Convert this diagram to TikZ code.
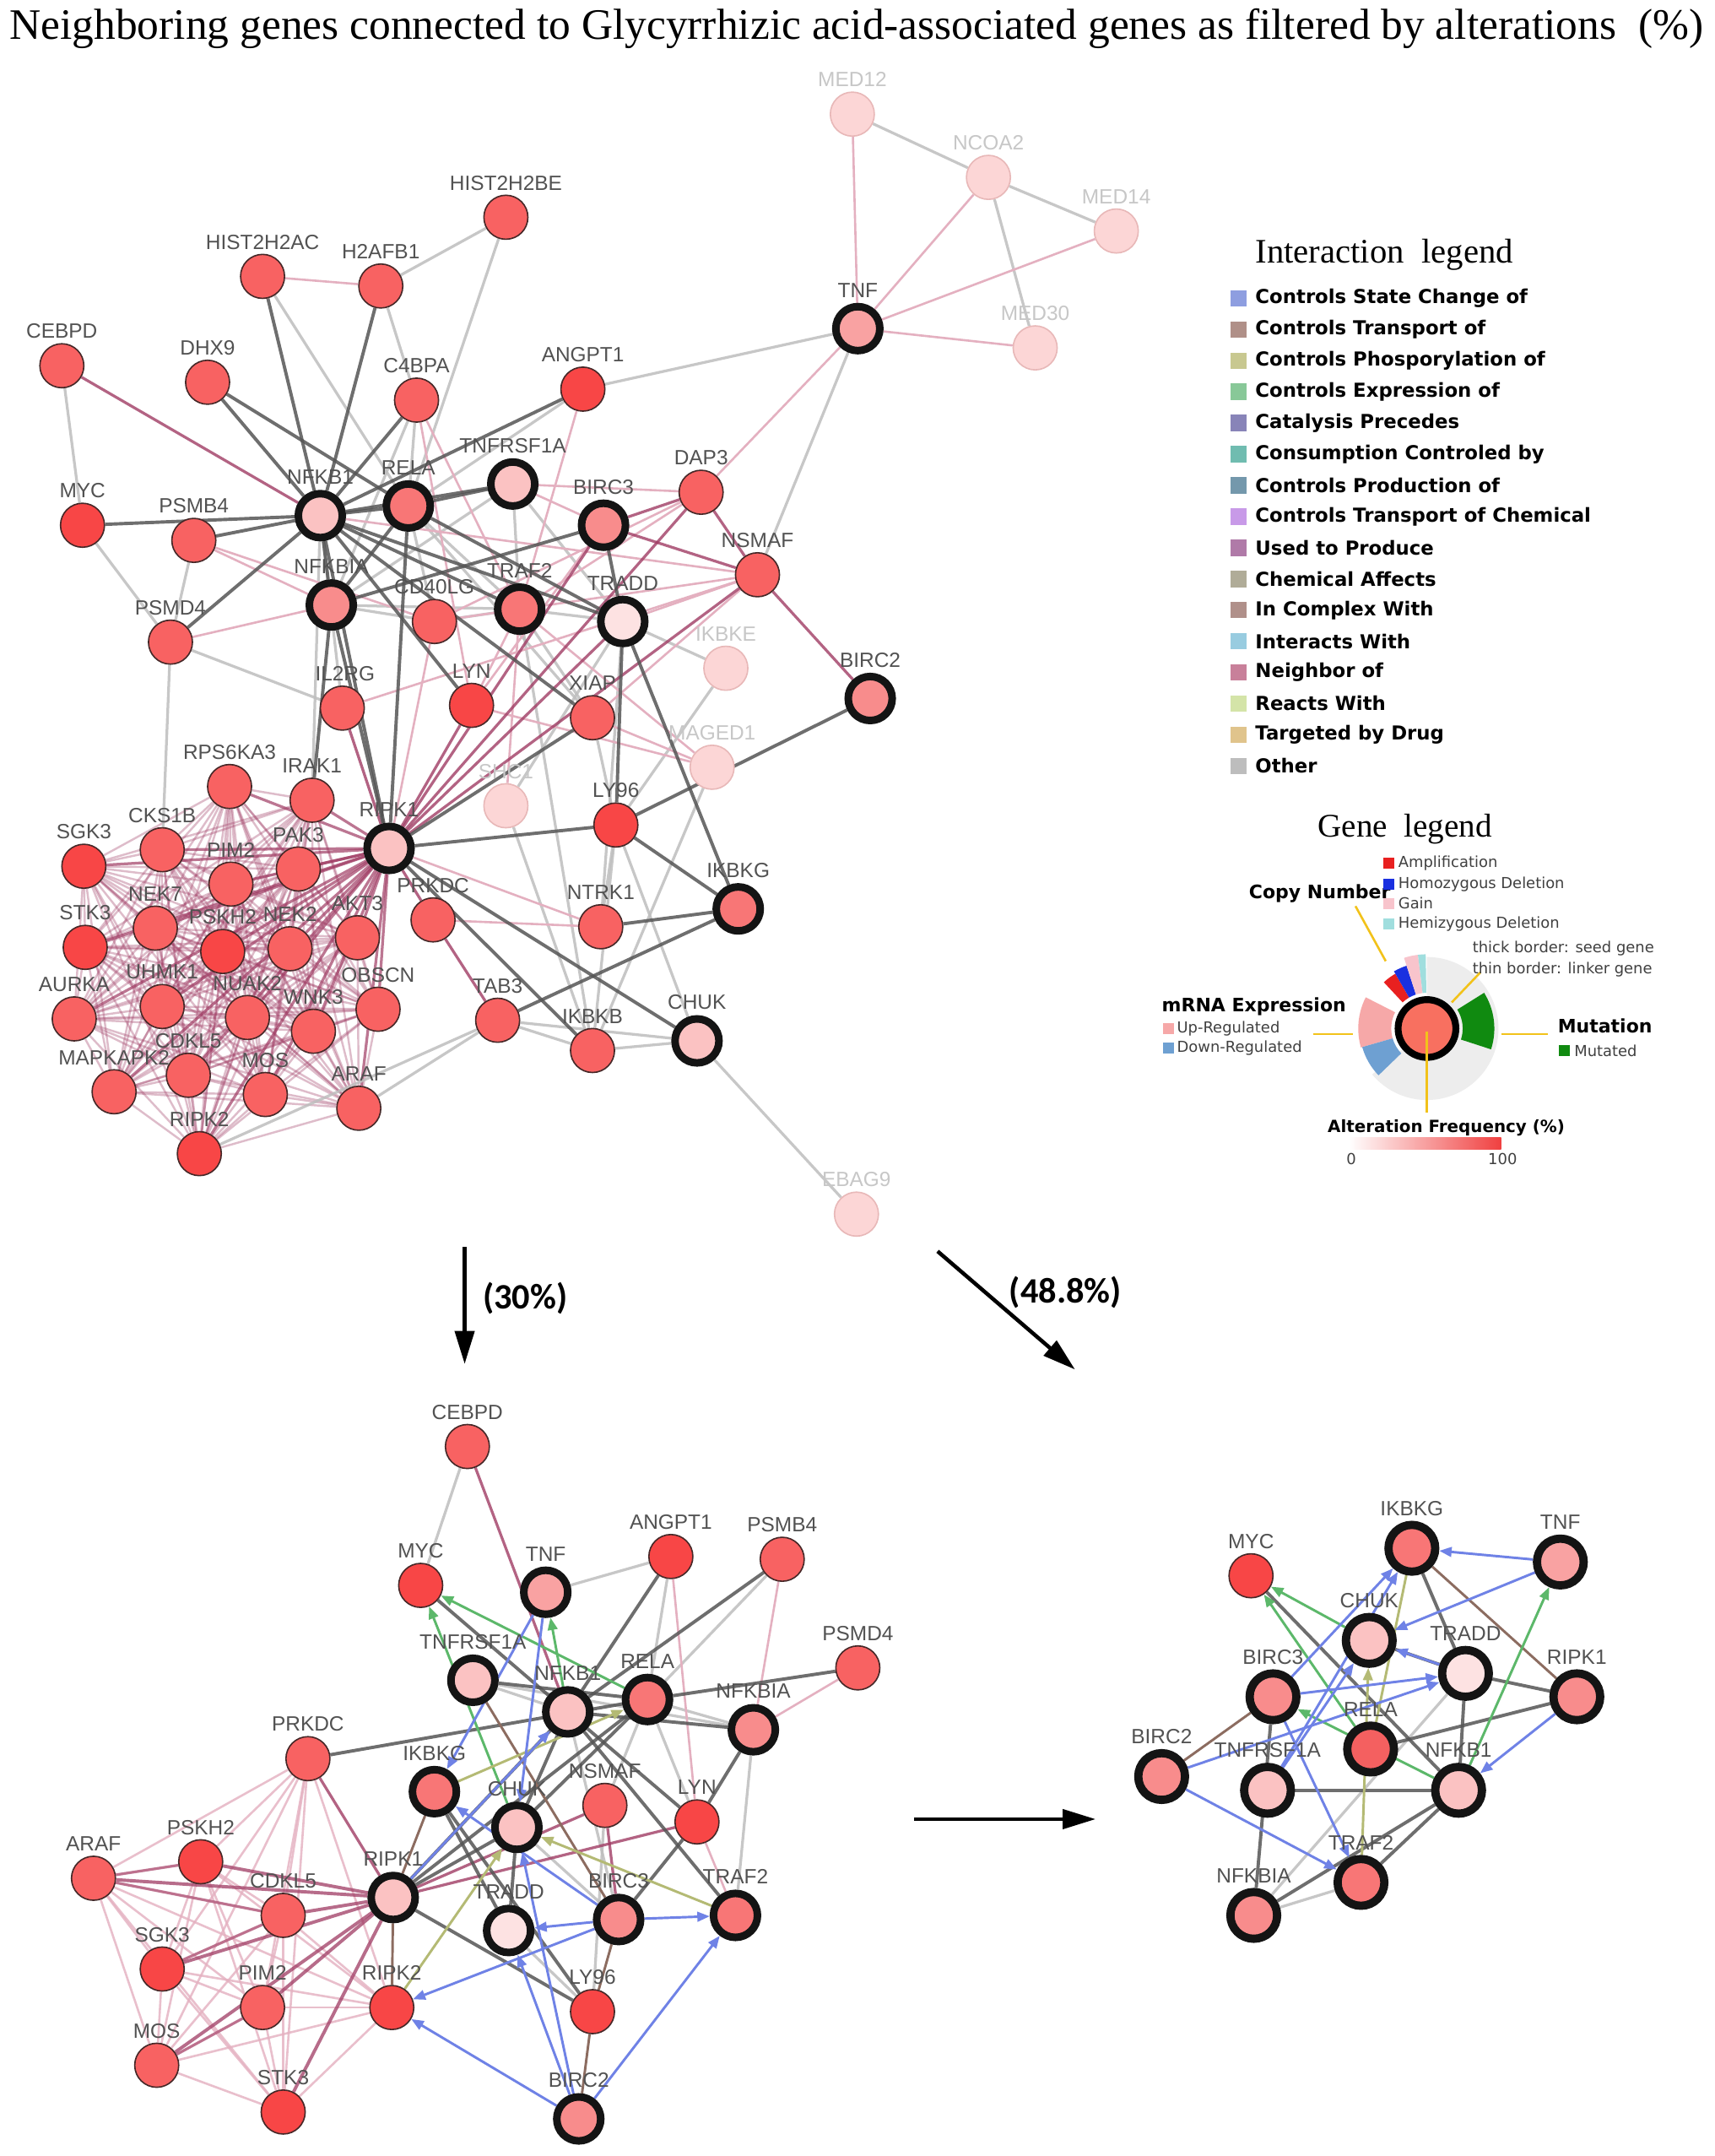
\documentclass[tikz,border=0pt]{standalone}
\usepackage{fontspec}
\setmainfont{Liberation Serif}
\setsansfont{Liberation Sans}
\newfontfamily\dejavu{DejaVu Sans}
\newfontfamily\carl{Carlito}
\usetikzlibrary{arrows.meta,calc}
\pgfdeclarelayer{bg}
\pgfdeclarelayer{edges}
\pgfsetlayers{bg,edges,main}
\definecolor{cR}{HTML}{F86262}
\definecolor{cRd}{HTML}{F84646}
\definecolor{cTNF}{HTML}{F9A2A2}
\definecolor{cSp}{HTML}{FBC2C2}
\definecolor{cSr}{HTML}{F87676}
\definecolor{cSm}{HTML}{F88C8C}
\definecolor{cSl}{HTML}{FDE2E2}
\definecolor{cRe}{HTML}{F46060}
\definecolor{cFd}{HTML}{FCD6D6}
\definecolor{cFdb}{HTML}{E8B8B8}
\definecolor{cBd}{HTML}{462828}
\definecolor{eDk}{HTML}{555555}
\definecolor{eLg}{HTML}{BEBEBE}
\definecolor{eMv}{HTML}{A03C64}
\definecolor{ePk}{HTML}{E4B0C0}
\definecolor{eBl}{HTML}{6F82E6}
\definecolor{eGr}{HTML}{5CB86A}
\definecolor{eOl}{HTML}{B4BA74}
\definecolor{eBr}{HTML}{8C6C60}
\definecolor{yel}{HTML}{F2C21A}
\definecolor{gGreen}{HTML}{108A10}
\definecolor{gUp}{HTML}{F6A8A8}
\definecolor{gDown}{HTML}{6EA0D2}
\definecolor{gAmp}{HTML}{E82020}
\definecolor{gHom}{HTML}{1A30E0}
\definecolor{gGain}{HTML}{F8C4CC}
\definecolor{gHem}{HTML}{A0DEDE}
\definecolor{gCore}{HTML}{F87060}
\definecolor{gGrad}{HTML}{F04040}
\definecolor{lc1}{HTML}{8E9EE0}
\definecolor{lc2}{HTML}{B09088}
\definecolor{lc3}{HTML}{C8C890}
\definecolor{lc4}{HTML}{88C898}
\definecolor{lc5}{HTML}{8884B8}
\definecolor{lc6}{HTML}{70BCB0}
\definecolor{lc7}{HTML}{7498AC}
\definecolor{lc8}{HTML}{C89AE8}
\definecolor{lc9}{HTML}{B07AA8}
\definecolor{lc10}{HTML}{B0AC98}
\definecolor{lc11}{HTML}{B0908A}
\definecolor{lc12}{HTML}{98CCE0}
\definecolor{lc13}{HTML}{C8809A}
\definecolor{lc14}{HTML}{D4E4A8}
\definecolor{lc15}{HTML}{E0C48C}
\definecolor{lc16}{HTML}{BDBDBD}
\tikzset{
 gn/.style={circle, draw=cBd, line width=1pt, minimum size=32pt, inner sep=0pt},
 sd/.style={circle, draw=black!92, line width=5.5pt, minimum size=32pt, inner sep=0pt},
 sdr/.style={circle, draw=black!92, line width=6pt, minimum size=34pt, inner sep=0pt},
 fd/.style={circle, draw=cFdb, line width=1pt, fill=cFd, minimum size=32pt, inner sep=0pt},
 lbl/.style={font=\sffamily\fontsize{15}{15}\selectfont, text=black!68, inner sep=0pt},
 flbl/.style={lbl, text=black!22},
 dk/.style={draw=eDk, line width=2.4pt, opacity=.85},
 lg/.style={draw=eLg, line width=2pt, opacity=.85},
 mv/.style={draw=eMv, line width=2pt, opacity=.8},
 pk/.style={draw=ePk, line width=1.6pt},
 kin/.style={draw=eMv, line width=1.5pt, opacity=.34},
 tipa/.style={-{Triangle[length=9pt,width=7pt]}},
 blu/.style={draw=eBl, line width=1.8pt, tipa},
 grn/.style={draw=eGr, line width=1.8pt, tipa},
 olv/.style={draw=eOl, line width=1.8pt, tipa},
 olvl/.style={draw=eOl, line width=1.8pt},
 brn/.style={draw=eBr, line width=1.8pt},
 bigarr/.style={line width=2.8pt, -{Triangle[length=24pt,width=14pt]}},
 legsq/.style={minimum size=12pt, inner sep=0pt},
 legtx/.style={font=\dejavu\bfseries\fontsize{14}{14}\selectfont, anchor=west, inner sep=0pt},
 gsm/.style={font=\dejavu\fontsize{11}{11}\selectfont, text=black!75, anchor=west, inner sep=0pt},
 gbd/.style={font=\dejavu\bfseries\fontsize{13.5}{13.5}\selectfont, inner sep=0pt},
 gsq/.style={minimum size=8pt, inner sep=0pt},
}
\newcommand\genN[6][0]{\node[gn,fill=#5] (#2) at (#3,#4) {}; \node[lbl] (#2-l) at (#3+#1,#4-25) {#6};}
\newcommand\genS[6][0]{\node[sd,fill=#5] (#2) at (#3,#4) {}; \node[lbl] (#2-l) at (#3+#1,#4-28) {#6};}
\newcommand\genR[6][0]{\node[sdr,fill=#5] (#2) at (#3,#4) {}; \node[lbl] (#2-l) at (#3+#1,#4-29) {#6};}
\newcommand\genF[5][0]{\node[fd] (#2) at (#3,#4) {}; \node[flbl] (#2-l) at (#3+#1,#4-25) {#5};}
\newcommand\gsect[5]{\fill[#1] (#2:26) arc[start angle=#2,end angle=#3,radius=26] -- (#3:#5) arc[start angle=#3,end angle=#2,radius=#5] -- cycle;}
\begin{document}
\begin{tikzpicture}[x=1pt,y=-1pt]
\useasboundingbox (0,0) rectangle (1247,1568);
\begin{pgfonlayer}{bg}
\fill[white] (0,0) rectangle (1247,1568);
\end{pgfonlayer}
% title
\node[font=\fontsize{31.6}{31.6}\selectfont, inner sep=0pt] (title) at (623,21) {Neighboring genes connected to Glycyrrhizic acid-associated genes as filtered by alterations\ \ (\%)};

% ================= TOP NETWORK nodes
\genF{t-MED12}{620}{83}{MED12}
\genF{t-NCOA2}{719}{129}{NCOA2}
\genF{t-MED14}{812}{168}{MED14}
\genF{t-MED30}{753}{253}{MED30}
\genS{t-TNF}{624}{239}{cTNF}{TNF}
\genN{t-HIST2H2BE}{368}{158}{cR}{HIST2H2BE}
\genN{t-HIST2H2AC}{191}{201}{cR}{HIST2H2AC}
\genN{t-H2AFB1}{277}{208}{cR}{H2AFB1}
\genN{t-CEBPD}{45}{266}{cR}{CEBPD}
\genN{t-DHX9}{151}{278}{cR}{DHX9}
\genN{t-C4BPA}{303}{291}{cR}{C4BPA}
\genN{t-ANGPT1}{424}{283}{cRd}{ANGPT1}
\genS{t-TNFRSF1A}{373}{352}{cSp}{TNFRSF1A}
\genN{t-MYC}{60}{382}{cRd}{MYC}
\genN{t-PSMB4}{141}{393}{cR}{PSMB4}
\genS{t-NFKB1}{233}{375}{cSp}{NFKB1}
\genS{t-RELA}{297}{368}{cSr}{RELA}
\genS{t-BIRC3}{439}{382}{cSm}{BIRC3}
\genN{t-DAP3}{510}{358}{cR}{DAP3}
\genN{t-NSMAF}{551}{418}{cR}{NSMAF}
\genS{t-NFKBIA}{241}{440}{cSm}{NFKBIA}
\genN{t-CD40LG}{316}{452}{cR}{CD40LG}
\genS{t-TRAF2}{378}{443}{cSr}{TRAF2}
\genS{t-TRADD}{453}{452}{cSl}{TRADD}
\genN{t-PSMD4}{124}{467}{cR}{PSMD4}
\genF{t-IKBKE}{528}{486}{IKBKE}
\genS{t-BIRC2}{633}{508}{cSm}{BIRC2}
\genN[2]{t-IL2RG}{249}{515}{cR}{IL2RG}
\genN{t-LYN}{343}{513}{cRd}{LYN}
\genN{t-XIAP}{431}{522}{cR}{XIAP}
\genF{t-MAGED1}{518}{558}{MAGED1}
\genN{t-RPS6KA3}{167}{572}{cR}{RPS6KA3}
\genN{t-IRAK1}{227}{582}{cR}{IRAK1}
\genF{t-SHC1}{368}{586}{SHC1}
\genN{t-LY96}{448}{600}{cRd}{LY96}
\genS{t-RIPK1}{283}{617}{cSp}{RIPK1}
\genN{t-SGK3}{61}{630}{cRd}{SGK3}
\genN{t-CKS1B}{118}{618}{cR}{CKS1B}
\genN{t-PIM2}{168}{643}{cR}{PIM2}
\genN{t-PAK3}{217}{632}{cR}{PAK3}
\genN{t-NEK7}{113}{675}{cR}{NEK7}
\genN{t-STK3}{62}{689}{cRd}{STK3}
\genN{t-PSKH2}{162}{692}{cRd}{PSKH2}
\genN{t-NEK2}{211}{690}{cR}{NEK2}
\genN{t-AKT3}{260}{682}{cR}{AKT3}
\genN{t-PRKDC}{315}{669}{cR}{PRKDC}
\genN{t-NTRK1}{437}{674}{cR}{NTRK1}
\genS{t-IKBKG}{537}{661}{cSr}{IKBKG}
\genN{t-AURKA}{54}{741}{cR}{AURKA}
\genN{t-UHMK1}{118}{732}{cR}{UHMK1}
\genN{t-NUAK2}{180}{740}{cR}{NUAK2}
\genN{t-WNK3}{228}{750}{cR}{WNK3}
\genN{t-OBSCN}{275}{734}{cR}{OBSCN}
\genN{t-TAB3}{362}{742}{cR}{TAB3}
\genN{t-IKBKB}{431}{764}{cR}{IKBKB}
\genS{t-CHUK}{507}{757}{cSp}{CHUK}
\genN{t-MAPKAPK2}{83}{794}{cR}{MAPKAPK2}
\genN{t-CDKL5}{137}{782}{cR}{CDKL5}
\genN{t-MOS}{193}{796}{cR}{MOS}
\genN{t-ARAF}{261}{806}{cR}{ARAF}
\genN{t-RIPK2}{145}{839}{cRd}{RIPK2}
\genF{t-EBAG9}{623}{883}{EBAG9}

% ================= BOTTOM-LEFT nodes
\genN{b-CEBPD}{340}{1052}{cR}{CEBPD}
\genN{b-MYC}{306}{1153}{cRd}{MYC}
\genS{b-TNF}{397}{1158}{cTNF}{TNF}
\genN{b-ANGPT1}{488}{1132}{cRd}{ANGPT1}
\genN{b-PSMB4}{569}{1134}{cR}{PSMB4}
\genN{b-PSMD4}{624}{1213}{cR}{PSMD4}
\genS{b-TNFRSF1A}{344}{1222}{cSp}{TNFRSF1A}
\genS{b-NFKB1}{413}{1245}{cSp}{NFKB1}
\genS{b-RELA}{471}{1236}{cSr}{RELA}
\genS{b-NFKBIA}{548}{1258}{cSm}{NFKBIA}
\genN{b-PRKDC}{224}{1279}{cR}{PRKDC}
\genS{b-IKBKG}{316}{1303}{cSr}{IKBKG}
\genN{b-NSMAF}{440}{1313}{cR}{NSMAF}
\genS{b-CHUK}{376}{1329}{cSp}{CHUK}
\genN{b-LYN}{507}{1325}{cRd}{LYN}
\genN{b-ARAF}{68}{1366}{cR}{ARAF}
\genN{b-PSKH2}{146}{1354}{cRd}{PSKH2}
\genN{b-CDKL5}{206}{1393}{cR}{CDKL5}
\genS{b-RIPK1}{286}{1380}{cSp}{RIPK1}
\genS{b-TRADD}{370}{1404}{cSl}{TRADD}
\genS{b-BIRC3}{450}{1396}{cSm}{BIRC3}
\genS{b-TRAF2}{535}{1393}{cSr}{TRAF2}
\genN{b-SGK3}{118}{1432}{cRd}{SGK3}
\genN{b-PIM2}{191}{1460}{cR}{PIM2}
\genN{b-RIPK2}{285}{1460}{cRd}{RIPK2}
\genN{b-LY96}{431}{1463}{cRd}{LY96}
\genN{b-MOS}{114}{1502}{cR}{MOS}
\genN{b-STK3}{206}{1536}{cRd}{STK3}
\genS{b-BIRC2}{421}{1541}{cSm}{BIRC2}

% ================= BOTTOM-RIGHT nodes
\genN{r-MYC}{910}{1146}{cRd}{MYC}
\genR{r-IKBKG}{1027}{1126}{cSr}{IKBKG}
\genR{r-TNF}{1135}{1136}{cTNF}{TNF}
\genR{r-CHUK}{996}{1193}{cSp}{CHUK}
\genR{r-BIRC3}{926}{1234}{cSm}{BIRC3}
\genR{r-TRADD}{1066}{1217}{cSl}{TRADD}
\genR{r-RIPK1}{1147}{1234}{cSm}{RIPK1}
\genR{r-RELA}{997}{1272}{cRe}{RELA}
\genR{r-BIRC2}{845}{1292}{cSm}{BIRC2}
\genR{r-TNFRSF1A}{922}{1302}{cSp}{TNFRSF1A}
\genR{r-NFKB1}{1061}{1302}{cSp}{NFKB1}
\genR{r-TRAF2}{990}{1369}{cSr}{TRAF2}
\genR{r-NFKBIA}{912}{1393}{cSm}{NFKBIA}

% ================= EDGES
\begin{pgfonlayer}{edges}
\def\topkin{t-SGK3,t-CKS1B,t-PIM2,t-PAK3,t-NEK7,t-STK3,t-PSKH2,t-NEK2,t-AKT3,t-AURKA,t-UHMK1,t-NUAK2,t-WNK3,t-OBSCN,t-MAPKAPK2,t-CDKL5,t-MOS,t-ARAF,t-RIPK2,t-RPS6KA3,t-IRAK1}
\foreach \a [count=\i] in \topkin {\foreach \b [count=\j] in \topkin {\ifnum\j>\i \draw[kin] (\a) -- (\b);\fi}}
\foreach \a in \topkin {\draw[mv, opacity=.7] (t-RIPK1) -- (\a);}
\foreach \a/\b in {t-HIST2H2BE/t-H2AFB1, t-HIST2H2BE/t-RELA, t-HIST2H2AC/t-RELA, t-H2AFB1/t-C4BPA, t-CEBPD/t-MYC, t-MYC/t-PSMD4, t-PSMB4/t-PSMD4, t-PSMD4/t-CKS1B, t-ANGPT1/t-TNF, t-TNF/t-NSMAF, t-MED12/t-NCOA2, t-NCOA2/t-MED14, t-NCOA2/t-MED30, t-TNFRSF1A/t-TRAF2, t-TRADD/t-IKBKE, t-IKBKE/t-LY96, t-MAGED1/t-IKBKB, t-LY96/t-NTRK1, t-LY96/t-IKBKB, t-LY96/t-CHUK, t-IKBKB/t-CHUK, t-CHUK/t-EBAG9, t-TAB3/t-IKBKB, t-TAB3/t-CHUK, t-TAB3/t-ARAF, t-RIPK2/t-TAB3, t-XIAP/t-LY96, t-TRAF2/t-XIAP, t-IL2RG/t-NFKB1, t-RELA/t-XIAP, t-TRAF2/t-IKBKB, t-C4BPA/t-RELA, t-C4BPA/t-NFKBIA, t-ANGPT1/t-RELA, t-TNFRSF1A/t-NFKBIA, t-NFKBIA/t-CD40LG, t-NFKBIA/t-TRAF2, t-CD40LG/t-TRAF2, t-RELA/t-CD40LG, t-TRAF2/t-TRADD, t-PSMD4/t-IL2RG, t-NFKB1/t-IRAK1, t-SHC1/t-TRADD, t-SHC1/t-IKBKB, t-NTRK1/t-TRADD, t-RELA/t-TRAF2, t-TNFRSF1A/t-TRADD}
  \draw[lg] (\a) -- (\b);
\foreach \a/\b in {t-HIST2H2AC/t-H2AFB1, t-TNF/t-DAP3, t-TNF/t-MED12, t-TNF/t-NCOA2, t-TNF/t-MED14, t-TNF/t-MED30, t-TNFRSF1A/t-BIRC3, t-TNFRSF1A/t-DAP3, t-ANGPT1/t-TRAF2, t-PSMB4/t-NFKBIA, t-PSMD4/t-NFKBIA, t-C4BPA/t-TRAF2, t-C4BPA/t-LYN, t-DAP3/t-TRAF2, t-DAP3/t-CD40LG, t-NSMAF/t-TRADD, t-NSMAF/t-CD40LG, t-NSMAF/t-IL2RG, t-NSMAF/t-XIAP, t-TRAF2/t-MAGED1, t-MAGED1/t-LYN, t-RIPK1/t-NTRK1, t-CD40LG/t-RIPK1, t-TRAF2/t-LYN, t-BIRC3/t-LYN, t-TRAF2/t-SHC1, t-XIAP/t-MAGED1, t-NFKB1/t-NSMAF, t-PRKDC/t-NTRK1, t-PSMB4/t-CD40LG}
  \draw[pk] (\a) -- (\b);
\foreach \a/\b in {t-CEBPD/t-NFKB1, t-BIRC3/t-DAP3, t-BIRC3/t-NSMAF, t-DAP3/t-NSMAF, t-DAP3/t-RIPK1, t-NSMAF/t-RIPK1, t-NSMAF/t-BIRC2, t-TRADD/t-RIPK1, t-PRKDC/t-TAB3, t-RIPK1/t-PRKDC, t-LYN/t-RIPK1, t-IL2RG/t-RIPK1, t-BIRC3/t-RIPK1}
  \draw[mv] (\a) -- (\b);
\foreach \a/\b in {t-NFKB1/t-HIST2H2AC, t-NFKB1/t-H2AFB1, t-NFKB1/t-DHX9, t-NFKB1/t-MYC, t-NFKB1/t-PSMB4, t-NFKB1/t-PSMD4, t-NFKB1/t-C4BPA, t-NFKB1/t-ANGPT1, t-NFKB1/t-RELA, t-NFKB1/t-TNFRSF1A, t-NFKB1/t-NFKBIA, t-NFKB1/t-TRAF2, t-NFKB1/t-TRADD, t-NFKB1/t-RIPK1, t-NFKB1/t-LYN, t-NFKB1/t-XIAP, t-DHX9/t-RELA, t-RELA/t-TNFRSF1A, t-RELA/t-RIPK1, t-RELA/t-NFKBIA, t-RELA/t-TRADD, t-NFKBIA/t-BIRC3, t-NFKBIA/t-RIPK1, t-NFKBIA/t-IRAK1, t-BIRC3/t-TRADD, t-TRADD/t-LY96, t-TRADD/t-IKBKG, t-BIRC2/t-LY96, t-LY96/t-RIPK1, t-LY96/t-IKBKG, t-NTRK1/t-IKBKG, t-XIAP/t-RIPK1, t-RIPK1/t-CHUK, t-RIPK1/t-IKBKB, t-TAB3/t-IKBKG}
  \draw[dk] (\a) -- (\b);

% bottom-left
\def\botkin{b-ARAF,b-PSKH2,b-CDKL5,b-SGK3,b-PIM2,b-MOS,b-STK3,b-RIPK2,b-PRKDC}
\foreach \a [count=\i] in \botkin {\foreach \b [count=\j] in \botkin {\ifnum\j>\i \draw[pk, opacity=.8] (\a) -- (\b);\fi}}
\foreach \a in {b-ARAF,b-PSKH2,b-CDKL5,b-SGK3,b-PIM2,b-MOS,b-STK3} {\draw[mv, line width=2.4pt, opacity=.75] (b-RIPK1) -- (\a);}
\draw[mv, opacity=.6] (b-ARAF) -- (b-PSKH2);
\draw[mv, opacity=.6] (b-ARAF) -- (b-CDKL5);
\draw[mv, opacity=.6] (b-SGK3) -- (b-CDKL5);
\draw[mv, opacity=.6] (b-MOS) -- (b-PIM2);
\foreach \a/\b in {b-CEBPD/b-MYC, b-TNF/b-ANGPT1, b-PSMB4/b-RELA, b-ANGPT1/b-RELA, b-TNFRSF1A/b-NFKBIA, b-TNFRSF1A/b-NFKB1, b-RELA/b-NFKBIA, b-NFKBIA/b-TRAF2, b-RELA/b-LYN, b-NSMAF/b-LY96, b-CHUK/b-BIRC3, b-RELA/b-NSMAF, b-TRADD/b-LY96, b-NFKB1/b-BIRC3}
  \draw[lg] (\a) -- (\b);
\foreach \a/\b in {b-ANGPT1/b-LYN, b-PSMB4/b-NFKBIA, b-PSMD4/b-NFKBIA, b-LYN/b-TRAF2}
  \draw[pk] (\a) -- (\b);
\foreach \a/\b in {b-CEBPD/b-NFKB1, b-PRKDC/b-RIPK1, b-NSMAF/b-RIPK1, b-LYN/b-RIPK1, b-NSMAF/b-BIRC3}
  \draw[mv] (\a) -- (\b);
\foreach \a/\b in {b-MYC/b-NFKB1, b-ANGPT1/b-NFKB1, b-PSMB4/b-NFKB1, b-PRKDC/b-RELA, b-RELA/b-PSMD4, b-TNFRSF1A/b-RELA, b-NFKB1/b-NFKBIA, b-NFKB1/b-CHUK, b-NFKB1/b-LYN, b-NFKB1/b-TRAF2, b-NFKBIA/b-LYN, b-RELA/b-RIPK1, b-NFKB1/b-RIPK1, b-CHUK/b-RIPK1, b-IKBKG/b-LY96, b-IKBKG/b-TRADD, b-CHUK/b-TRADD, b-RIPK1/b-LY96, b-LYN/b-BIRC3, b-RELA/b-CHUK}
  \draw[dk] (\a) -- (\b);
\foreach \a/\b in {b-IKBKG/b-RIPK1, b-RIPK1/b-RIPK2, b-LY96/b-BIRC2, b-BIRC3/b-LY96, b-TNFRSF1A/b-BIRC3}
  \draw[brn] (\a) -- (\b);
\foreach \a/\b in {b-RELA/b-MYC, b-CHUK/b-MYC, b-NFKB1/b-TNF}
  \draw[grn] (\a) -- (\b);
\foreach \a/\b in {b-IKBKG/b-RELA, b-RIPK2/b-CHUK, b-TRAF2/b-CHUK}
  \draw[olv] (\a) -- (\b);
\foreach \a/\b in {b-TNF/b-IKBKG, b-TNF/b-CHUK, b-RIPK1/b-NFKB1, b-BIRC3/b-TRADD, b-BIRC3/b-TRAF2, b-BIRC3/b-RIPK2, b-BIRC2/b-RIPK2, b-BIRC2/b-TRAF2, b-BIRC2/b-TRADD, b-BIRC3/b-IKBKG, b-BIRC2/b-CHUK}
  \draw[blu] (\a) -- (\b);

% bottom-right
\foreach \a/\b in {r-TRAF2/r-NFKBIA, r-NFKBIA/r-TRADD}
  \draw[lg] (\a) -- (\b);
\foreach \a/\b in {r-IKBKG/r-TRADD, r-MYC/r-NFKB1, r-TRADD/r-CHUK, r-TRADD/r-RIPK1, r-TRADD/r-NFKB1, r-RIPK1/r-RELA, r-BIRC3/r-NFKBIA, r-TNFRSF1A/r-NFKB1, r-NFKB1/r-TRAF2, r-NFKB1/r-NFKBIA}
  \draw[dk] (\a) -- (\b);
\foreach \a/\b in {r-IKBKG/r-RIPK1, r-BIRC2/r-BIRC3}
  \draw[brn] (\a) -- (\b);
\draw[olvl] (r-IKBKG) -- (r-RELA);
\draw[olv] (r-TRAF2) -- (r-CHUK);
\foreach \a/\b in {r-CHUK/r-MYC, r-RELA/r-MYC, r-NFKB1/r-BIRC3, r-NFKB1/r-TNF}
  \draw[grn] (\a) -- (\b);
\foreach \a/\b in {r-TNF/r-IKBKG, r-TNF/r-CHUK, r-BIRC3/r-IKBKG, r-TNFRSF1A/r-IKBKG, r-TNFRSF1A/r-CHUK, r-TRADD/r-CHUK, r-BIRC3/r-TRADD, r-BIRC2/r-TRADD, r-BIRC2/r-TRAF2, r-BIRC3/r-TRAF2, r-RIPK1/r-NFKB1}
  \draw[blu] (\a) -- (\b);
\end{pgfonlayer}

% ================= transition arrows
\coordinate (a1s) at (338,907); \coordinate (a1e) at (338,992);
\draw[bigarr] (a1s) -- (a1e);
\node[font=\carl\bfseries\fontsize{26}{26}\selectfont, inner sep=0pt] (a1l) at (382,944) {(30\%)};
\coordinate (a2s) at (682,910); \coordinate (a2e) at (782,996);
\draw[bigarr] (a2s) -- (a2e);
\node[font=\carl\bfseries\fontsize{26}{26}\selectfont, inner sep=0pt] (a2l) at (775,940) {(48.8\%)};
\coordinate (a3s) at (665,1323); \coordinate (a3e) at (797,1323);
\draw[bigarr] (a3s) -- (a3e);

% ================= interaction legend
\node[font=\fontsize{25}{25}\selectfont, inner sep=0pt] (ilt) at (1007,185) {Interaction\ \ legend};
\foreach \c/\t [count=\i] in {lc1/Controls State Change of, lc2/Controls Transport of, lc3/Controls Phosporylation of, lc4/Controls Expression of, lc5/Catalysis Precedes, lc6/Consumption Controled by, lc7/Controls Production of, lc8/Controls Transport of Chemical, lc9/Used to Produce, lc10/Chemical Affects, lc11/In Complex With, lc12/Interacts With, lc13/Neighbor of, lc14/Reacts With, lc15/Targeted by Drug, lc16/Other} {
  \node[legsq, fill=\c] (lsq\i) at (901,{217+22.67*(\i-1)}) {};
  \node[legtx] (ltx\i) at (913,{217+22.67*(\i-1)}) {\t};
}

% ================= gene legend
\node[font=\fontsize{24}{24}\selectfont, inner sep=0pt] (glt) at (1022,603) {Gene\ \ legend};
\begin{scope}[shift={(1038,748)}, yscale=-1]
  \fill[black!7] (0,0) -- (-140:52) arc[start angle=-140, end angle=90, radius=52] -- cycle;
  \gsect{gGreen}{-18}{32}{26}{49}
  \gsect{gUp}{153}{196}{26}{50}
  \gsect{gDown}{196}{224}{26}{49}
  \gsect{gAmp}{120}{133}{26}{46}
  \gsect{gHom}{108}{120}{26}{48}
  \gsect{gGain}{97}{108}{26}{54}
  \gsect{gHem}{91}{97}{26}{54}
  \draw[line width=5pt, fill=gCore] (0,0) circle[radius=21];
\end{scope}
\coordinate (gc) at (1038,750);
\draw[yel, line width=1.6pt] (986,659) -- (1008,699);
\draw[yel, line width=1.6pt] (955,752) -- (984,752);
\draw[yel, line width=1.6pt] (1092,752) -- (1126,752);
\draw[yel, line width=1.6pt] (1077,707) -- (1056,729);
\draw[yel, line width=1.6pt] (gc) -- (1038,809);
\node[gbd] (gcn) at (960,650) {Copy Number};
\foreach \c/\t/\y [count=\i] in {gAmp/Amplification/628, gHom/Homozygous Deletion/643, gGain/Gain/657, gHem/Hemizygous Deletion/672} {
  \node[gsq, fill=\c] (gcs\i) at (1010,\y) {};
  \node[gsm] (gct\i) at (1017,\y) {\t};
}
\node[gsm] (gth) at (1071,690) {thick border: seed gene};
\node[gsm] (gtn) at (1071,705) {thin border: linker gene};
\node[gbd, anchor=west] (gmr) at (845,732) {mRNA Expression};
\node[gsq, fill=gUp] (gms1) at (850,748) {};
\node[gsm] (gmt1) at (856,748) {Up-Regulated};
\node[gsq, fill=gDown] (gms2) at (850,762) {};
\node[gsm] (gmt2) at (856,762) {Down-Regulated};
\node[gbd, anchor=west] (gmu) at (1133,746) {Mutation};
\node[gsq, fill=gGreen] (gmus) at (1138,764) {};
\node[gsm] (gmut) at (1145,764) {Mutated};
\node[gbd, font=\dejavu\bfseries\fontsize{12.2}{12.2}\selectfont] (gaf) at (1052,820) {Alteration Frequency (\%)};
\shade[left color=white, right color=gGrad] (981,827) rectangle (1092,836);
\node[gsm, anchor=center] (g0) at (983,843) {0};
\node[gsm, anchor=center] (g100) at (1093,843) {100};
\end{tikzpicture}
\end{document}
